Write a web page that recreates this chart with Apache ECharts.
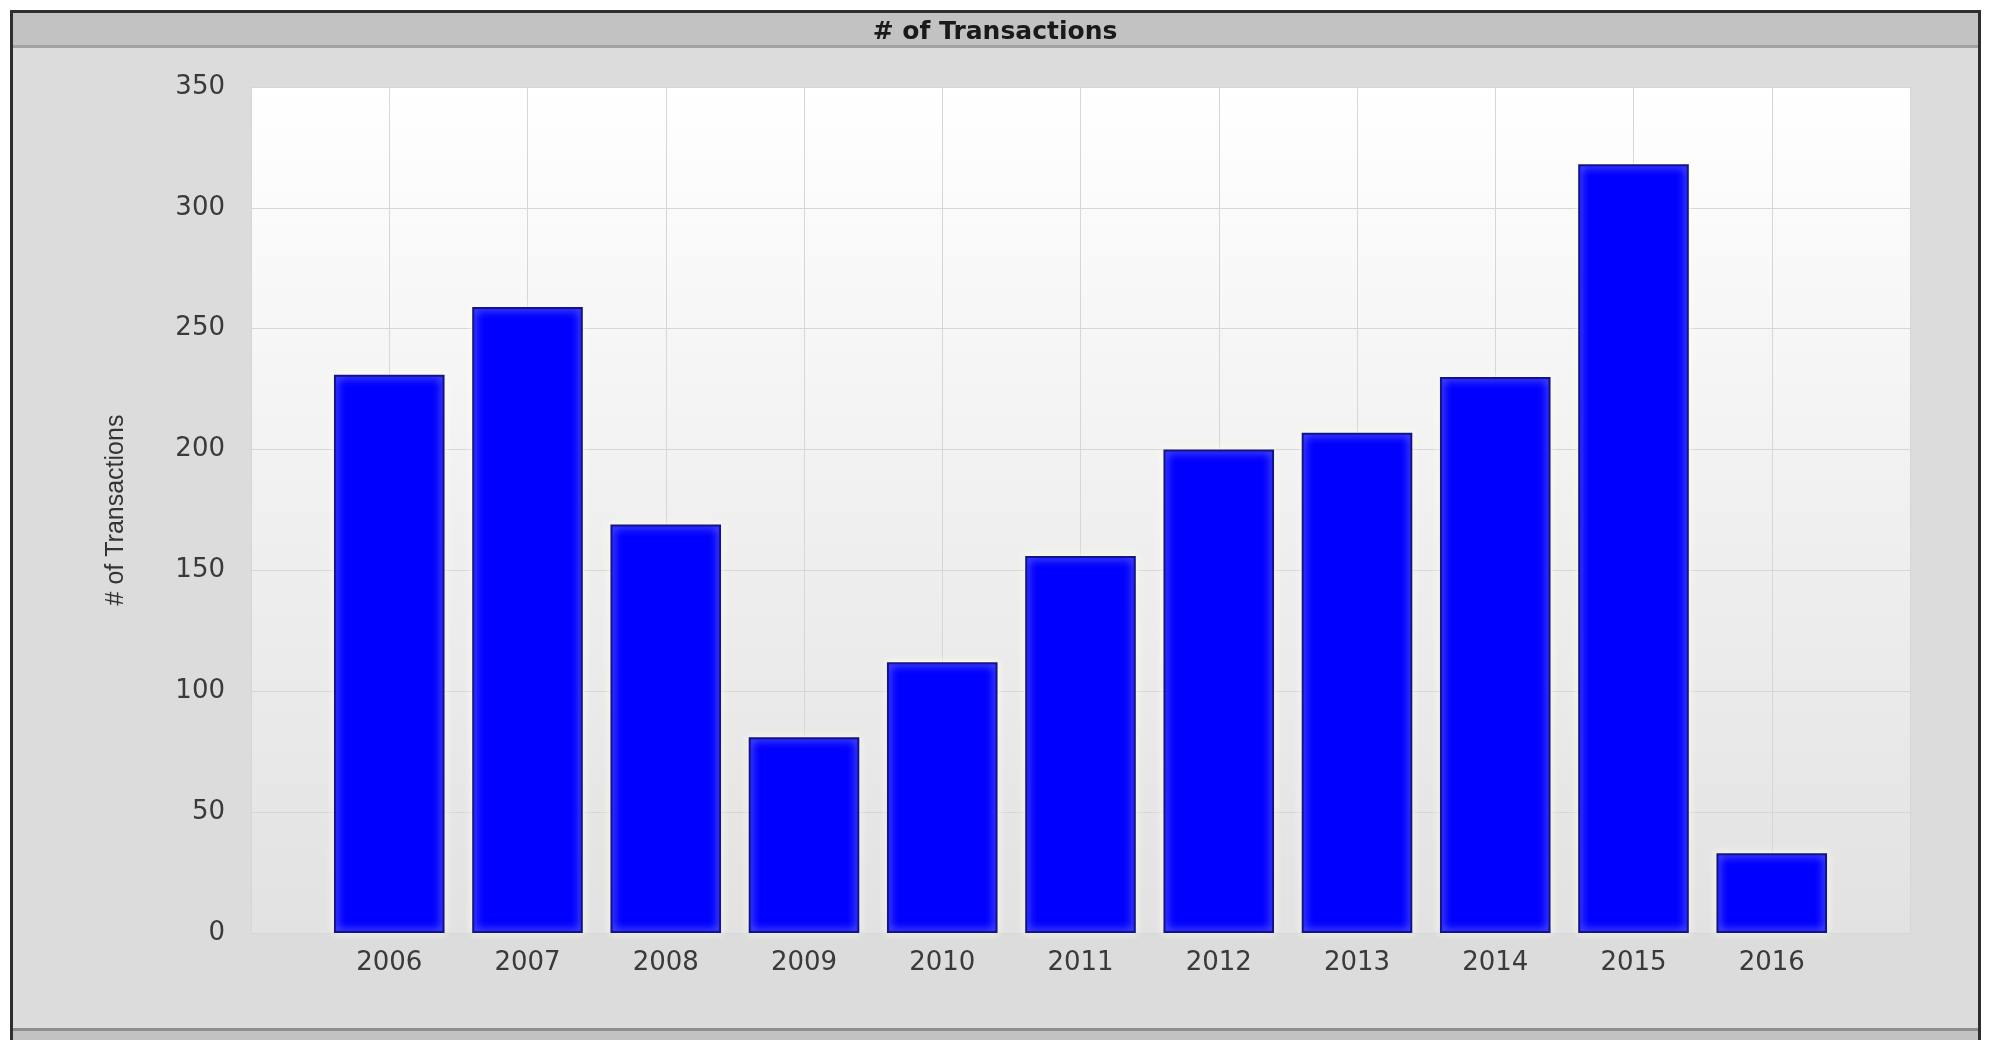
<!DOCTYPE html>
<html>
<head>
<meta charset="utf-8">
<title># of Transactions</title>
<script src="https://cdn.jsdelivr.net/npm/echarts@6/dist/echarts.min.js"></script>
<style>
  html, body { margin: 0; padding: 0; background: #ffffff; }
  #chart { width: 1990px; height: 1040px; }
</style>
</head>
<body>
<div id="chart"></div>
<script>
// Yearly transaction counts
const years = [2006, 2007, 2008, 2009, 2010, 2011, 2012, 2013, 2014, 2015, 2016];
const transactions = [231, 259, 169, 81, 112, 156, 200, 207, 230, 318, 33];
const yTicks = [0, 50, 100, 150, 200, 250, 300, 350];

const chartTitle = '# of Transactions';
const yAxisTitle = '# of Transactions';

const firstYear = years[0];
const lastYear = years[years.length - 1];

const chart = echarts.init(document.getElementById('chart'), null, { renderer: 'canvas' });

const option = {
  animation: false,
  backgroundColor: '#ffffff',
  graphic: [
    // outer panel with dark frame
    { type: 'rect', z: -10, silent: true,
      shape: { x: 11.5, y: 11.5, width: 1968, height: 1040 },
      style: { fill: '#dcdcdc', stroke: '#2e2e2e', lineWidth: 3 } },
    // header strip
    { type: 'rect', z: -9, silent: true,
      shape: { x: 13, y: 13, width: 1965, height: 32 },
      style: { fill: '#c2c2c2' } },
    { type: 'rect', z: -9, silent: true,
      shape: { x: 13, y: 45, width: 1965, height: 3 },
      style: { fill: '#a2a2a2' } },
    // footer strip
    { type: 'rect', z: -9, silent: true,
      shape: { x: 13, y: 1028, width: 1965, height: 3 },
      style: { fill: '#8e8e8e' } },
    { type: 'rect', z: -9, silent: true,
      shape: { x: 13, y: 1031, width: 1965, height: 12 },
      style: { fill: '#c2c2c2' } }
  ],
  title: {
    text: chartTitle,
    left: 'center',
    top: 15,
    textStyle: {
      fontFamily: 'DejaVu Sans',
      fontWeight: 'bold',
      fontSize: 25,
      color: '#1a1a1a'
    }
  },
  grid: {
    left: 251,
    right: 80,
    top: 87,
    bottom: 107,
    show: true,
    borderWidth: 0,
    backgroundColor: {
      type: 'linear', x: 0, y: 0, x2: 0, y2: 1,
      colorStops: [
        { offset: 0, color: '#ffffff' },
        { offset: 0.5, color: '#f0f0f0' },
        { offset: 1, color: '#e2e2e2' }
      ]
    }
  },
  xAxis: {
    type: 'value',
    min: firstYear - 1,
    max: lastYear + 1,
    interval: 1,
    axisLine: { show: false },
    axisTick: { show: false },
    splitLine: { show: true, lineStyle: { color: '#d6d6d6', width: 1 } },
    axisLabel: {
      margin: 17,
      fontFamily: 'DejaVu Sans',
      fontSize: 26,
      color: '#3a3a3a',
      showMinLabel: true,
      showMaxLabel: true,
      formatter: function (v) {
        return years.indexOf(v) >= 0 ? String(v) : '';
      }
    }
  },
  yAxis: {
    type: 'value',
    min: yTicks[0],
    max: yTicks[yTicks.length - 1],
    interval: yTicks[1] - yTicks[0],
    name: yAxisTitle,
    nameLocation: 'middle',
    nameRotate: 90,
    nameGap: 122,
    nameTextStyle: {
      fontFamily: 'Liberation Sans',
      fontSize: 25,
      color: '#333333'
    },
    axisLine: { show: false },
    axisTick: { show: false },
    splitLine: { show: true, lineStyle: { color: '#d6d6d6', width: 1 } },
    axisLabel: {
      margin: 26,
      fontFamily: 'DejaVu Sans',
      fontSize: 26,
      color: '#3a3a3a'
    }
  },
  series: [{
    type: 'bar',
    name: chartTitle,
    data: years.map((y, i) => [y, transactions[i]]),
    barWidth: '80%',
    itemStyle: {
      color: '#0000ff',
      borderColor: '#14148a',
      borderWidth: 2,
      shadowColor: 'rgba(255, 255, 235, 0.9)',
      shadowBlur: 8
    }
  }]
};

chart.setOption(option);
</script>
</body>
</html>
